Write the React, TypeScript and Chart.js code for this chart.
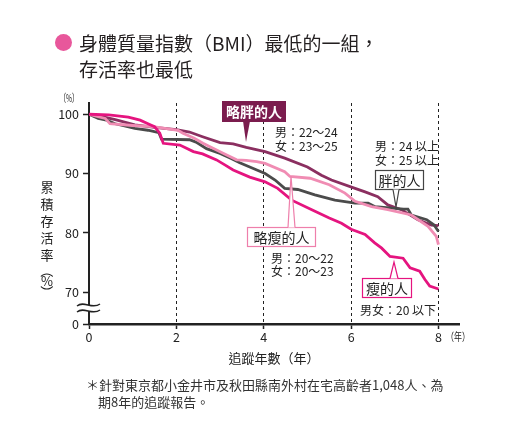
import React, { useEffect, useRef } from "react";
import { Chart, registerables } from "chart.js";

Chart.register(...registerables);

const FONT = '"Noto Sans CJK TC", "Noto Sans", sans-serif';

// ---- axis ticks ----
const xTickValues = [0, 2, 4, 6, 8];
const yTickValues = [64.6, 70, 80, 90, 100];
const yTickLabels = ["0", "70", "80", "90", "100"];

// ---- series: 略胖的人 ----
const slightlyHeavyYears = [0, 0.3, 0.6, 1.05, 1.5, 2.0, 2.3, 2.6, 3.0, 3.3, 3.6, 4.03, 4.48, 5.0, 5.32, 5.55, 6.09, 6.32, 6.61, 6.84, 7.15, 7.53, 7.84, 8.0];
const slightlyHeavyRates = [100, 99.6, 99.1, 98.2, 97.8, 97.4, 97.0, 96.2, 95.2, 95.0, 94.4, 93.7, 92.6, 91.1, 89.7, 88.9, 87.5, 86.9, 86.1, 84.7, 83.9, 82.2, 81.3, 81.2];

// ---- series: 胖的人 ----
const heavyYears = [0, 0.21, 0.4, 0.6, 1.05, 1.35, 1.6, 1.66, 2.3, 2.45, 2.69, 3.0, 3.23, 3.45, 3.68, 4.03, 4.26, 4.48, 4.78, 5.17, 5.63, 6.09, 6.39, 6.55, 7.2, 7.3, 7.38, 7.73, 7.9, 8.0];
const heavyRates = [100, 99.3, 99.0, 98.4, 97.6, 97.3, 96.9, 95.8, 95.7, 95.3, 94.2, 93.4, 92.6, 91.8, 91.1, 90.0, 88.9, 87.5, 87.3, 86.4, 85.5, 85.0, 85.0, 84.4, 84.0, 84.0, 83.0, 82.2, 81.3, 80.2];

// ---- series: 略瘦的人 ----
const slightlyThinYears = [0, 0.37, 0.48, 1.0, 1.47, 2.04, 2.15, 2.4, 2.61, 3.07, 3.38, 3.6, 3.84, 4.03, 4.48, 4.6, 5.06, 5.5, 5.86, 6.09, 6.47, 6.84, 7.38, 7.76, 7.95, 8.0];
const slightlyThinRates = [100, 99.3, 98.4, 98.1, 97.9, 97.3, 96.8, 96.0, 95.1, 93.4, 92.3, 92.2, 92.0, 91.7, 90.3, 89.5, 89.2, 88.1, 86.7, 85.3, 84.4, 83.9, 83.0, 81.1, 79.4, 78.0];

// ---- series: 瘦的人 ----
const thinYears = [0, 0.45, 0.9, 1.17, 1.35, 1.5, 1.62, 1.7, 2.08, 2.39, 2.6, 2.92, 3.1, 3.3, 3.68, 4.03, 4.32, 4.64, 5.1, 5.5, 5.78, 6.0, 6.32, 6.54, 6.7, 6.89, 7.19, 7.35, 7.57, 7.69, 7.8, 8.0];
const thinRates = [100, 99.9, 99.5, 99.0, 98.4, 97.9, 96.8, 95.1, 94.8, 93.7, 93.3, 92.3, 91.5, 90.6, 89.4, 88.6, 87.5, 85.5, 83.9, 82.5, 81.6, 80.6, 79.7, 78.3, 77.4, 76.0, 75.7, 74.1, 73.5, 72.1, 71.0, 70.5];

const seriesNames = ["瘦的人", "略瘦的人", "胖的人", "略胖的人"];
const seriesColors = ["#e5147f", "#f08cb3", "#4b4b4b", "#8b2f60"];

const toPoints = (xs: number[], ys: number[]) => xs.map((x, i) => ({ x, y: ys[i] }));

const annotationPlugin = {
  id: "bmiAnnotations",
  afterDatasetsDraw(chart: any) {
    const ctx: CanvasRenderingContext2D = chart.ctx;
    const xs = chart.scales.x;
    const ys = chart.scales.y;
    const left = chart.chartArea.left;
    ctx.save();

    // axis break symbol
    const yb = (ys.getPixelForValue(70) + ys.getPixelForValue(ys.min)) / 2 - 1;
    ctx.fillStyle = "#fff";
    ctx.beginPath();
    ctx.moveTo(left - 12, yb - 1);
    ctx.bezierCurveTo(left - 5, yb - 7, left + 3, yb + 3, left + 11, yb - 3);
    ctx.lineTo(left + 11, yb + 3);
    ctx.bezierCurveTo(left + 3, yb + 9, left - 5, yb - 1, left - 12, yb + 5);
    ctx.closePath();
    ctx.fill();
    ctx.strokeStyle = "#222";
    ctx.lineWidth = 1.4;
    ctx.beginPath();
    ctx.moveTo(left - 12, yb - 1);
    ctx.bezierCurveTo(left - 5, yb - 7, left + 3, yb + 3, left + 11, yb - 3);
    ctx.stroke();
    ctx.beginPath();
    ctx.moveTo(left - 12, yb + 5);
    ctx.bezierCurveTo(left - 5, yb - 1, left + 3, yb + 9, left + 11, yb + 3);
    ctx.stroke();

    ctx.textBaseline = "middle";
    ctx.fillStyle = "#222";

    // (%) unit label
    ctx.font = `11px ${FONT}`;
    ctx.textAlign = "center";
    ctx.fillText("（%）", 69, 98, 19);

    // (年) unit label
    ctx.fillText("（年）", 458, 337, 24);

    // x title
    ctx.font = `13px ${FONT}`;
    ctx.fillText("追蹤年數（年）", 274, 358);

    // vertical y title
    const yChars = ["累", "積", "存", "活", "率"];
    ctx.font = `13px ${FONT}`;
    yChars.forEach((c, i) => ctx.fillText(c, 47, 187 + i * 17));
    const drawRot = (c: string, x: number, y: number) => {
      ctx.save();
      ctx.translate(x, y);
      ctx.rotate(Math.PI / 2);
      ctx.fillText(c, 0, 0);
      ctx.restore();
    };
    drawRot("（", 47, 271);
    ctx.fillText("%", 47, 281);
    drawRot("）", 47, 292);

    // callout: 略胖的人 (filled)
    ctx.fillStyle = "#7b1c4e";
    ctx.fillRect(222, 101, 64, 21);
    ctx.beginPath();
    ctx.moveTo(243, 121);
    ctx.lineTo(246, 142);
    ctx.lineTo(250, 121);
    ctx.closePath();
    ctx.fill();
    ctx.fillStyle = "#fff";
    ctx.font = `bold 14px ${FONT}`;
    ctx.fillText("略胖的人", 254, 112);

    const outlineBox = (
      x: number, y: number, w: number, h: number, color: string, text: string,
      tipX: number, tipY: number, baseX1: number, baseX2: number, baseY: number
    ) => {
      ctx.fillStyle = "#fff";
      ctx.fillRect(x, y, w, h);
      ctx.strokeStyle = color;
      ctx.lineWidth = 1.2;
      ctx.strokeRect(x + 0.5, y + 0.5, w - 1, h - 1);
      ctx.beginPath();
      ctx.moveTo(baseX1, baseY);
      ctx.lineTo(tipX, tipY);
      ctx.lineTo(baseX2, baseY);
      ctx.closePath();
      ctx.fill();
      ctx.beginPath();
      ctx.moveTo(baseX1, baseY);
      ctx.lineTo(tipX, tipY);
      ctx.lineTo(baseX2, baseY);
      ctx.stroke();
      ctx.fillStyle = "#222";
      ctx.font = `14px ${FONT}`;
      ctx.textAlign = "center";
      ctx.fillText(text, x + w / 2, y + h / 2 + 1);
    };

    outlineBox(375, 170, 49, 20, "#444", "胖的人", 396, 207, 393, 399, 189.5);
    outlineBox(247, 227, 69, 20, "#ee7fab", "略瘦的人", 291, 176, 288, 295, 227.5);
    outlineBox(362, 278, 50, 20, "#e5147f", "瘦的人", 394, 262, 390, 398, 278.5);

    // group ranges
    ctx.fillStyle = "#222";
    ctx.font = `12px ${FONT}`;
    ctx.textAlign = "left";
    ctx.fillText("男：22～24", 275, 132);
    ctx.fillText("女：23～25", 275, 146);
    ctx.fillText("男：24 以上", 375, 146);
    ctx.fillText("女：25 以上", 375, 160);
    ctx.fillText("男：20～22", 271, 258);
    ctx.fillText("女：20～23", 271, 271);
    ctx.fillText("男女：20 以下", 360, 310);

    ctx.restore();
  },
};

export default function App() {
  const ref = useRef<HTMLCanvasElement>(null);

  useEffect(() => {
    const series = [
      toPoints(thinYears, thinRates),
      toPoints(slightlyThinYears, slightlyThinRates),
      toPoints(heavyYears, heavyRates),
      toPoints(slightlyHeavyYears, slightlyHeavyRates),
    ];
    const chart = new Chart(ref.current as HTMLCanvasElement, {
      type: "line",
      data: {
        datasets: series.map((data, i) => ({
          label: seriesNames[i],
          data,
          borderColor: seriesColors[i],
          backgroundColor: seriesColors[i],
          borderWidth: 2.8,
          pointRadius: 0,
          tension: 0,
          fill: false,
        })),
      },
      options: {
        responsive: false,
        animation: false,
        events: [],
        layout: { padding: { left: 0, top: 103, right: 59, bottom: 0 } },
        plugins: {
          legend: { display: false },
          tooltip: { enabled: false },
          title: { display: false },
        },
        scales: {
          x: {
            type: "linear",
            min: 0,
            max: 8.47,
            afterBuildTicks: (s: any) => {
              s.ticks = xTickValues.map((v) => ({ value: v }));
            },
            afterFit: (s: any) => {
              s.height = 106;
            },
            ticks: {
              font: { family: FONT, size: 12.5 },
              color: "#222",
              padding: 1,
              maxRotation: 0,
              autoSkip: false,
              callback: (v: any) => String(v),
            },
            grid: {
              color: (c: any) => (c.tick && c.tick.value === 0 ? "rgba(0,0,0,0)" : "#222"),
              lineWidth: 1,
              drawOnChartArea: true,
              drawTicks: true,
              tickLength: 5,
              tickWidth: 1.5,
              tickColor: "#222",
            },
            border: { display: true, color: "#222", width: 2.5, dash: [3, 3] },
          },
          y: {
            type: "linear",
            min: 64.6,
            max: 101.9,
            afterBuildTicks: (s: any) => {
              s.ticks = yTickValues.map((v) => ({ value: v }));
            },
            afterFit: (s: any) => {
              s.width = 89;
            },
            ticks: {
              font: { family: FONT, size: 12.5 },
              color: "#222",
              padding: 4,
              autoSkip: false,
              callback: (_v: any, i: number) => yTickLabels[i],
            },
            grid: {
              drawOnChartArea: false,
              drawTicks: true,
              tickLength: 6,
              tickWidth: 1.5,
              tickColor: "#222",
            },
            border: { display: true, color: "#222", width: 2 },
          },
        },
      },
      plugins: [annotationPlugin],
    } as any);
    return () => chart.destroy();
  }, []);

  return (
    <div
      style={{
        position: "absolute",
        left: 0,
        top: 0,
        width: 518,
        height: 430,
        background: "#fff",
        overflow: "hidden",
        fontFamily: FONT,
        color: "#231f20",
      }}
    >
      <canvas
        ref={ref}
        width={518}
        height={430}
        style={{ position: "absolute", left: 0, top: 0, width: 518, height: 430 }}
      />
      <div
        style={{
          position: "absolute",
          left: 55,
          top: 34,
          width: 17,
          height: 17,
          borderRadius: "50%",
          background: "#e8579b",
        }}
      />
      <div
        style={{
          position: "absolute",
          left: 79,
          top: 30,
          fontSize: 19,
          lineHeight: "26px",
          whiteSpace: "nowrap",
        }}
      >
        <div>身體質量指數（BMI）最低的一組，</div>
        <div>存活率也最低</div>
      </div>
      <div
        style={{
          position: "absolute",
          left: 86,
          top: 376,
          fontSize: 13,
          lineHeight: "17px",
          whiteSpace: "nowrap",
          color: "#333",
        }}
      >
        ＊針對東京都小金井市及秋田縣南外村在宅高齡者1,048人、為
      </div>
      <div
        style={{
          position: "absolute",
          left: 98,
          top: 393,
          fontSize: 13,
          lineHeight: "17px",
          whiteSpace: "nowrap",
          color: "#333",
        }}
      >
        期8年的追蹤報告。
      </div>
    </div>
  );
}
